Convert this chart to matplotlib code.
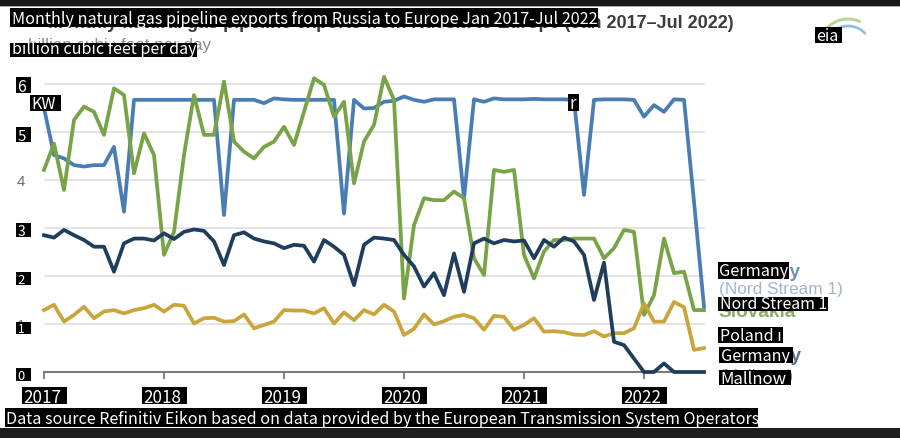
import numpy as np
import matplotlib
matplotlib.use("Agg")
import matplotlib.pyplot as plt
from matplotlib.patches import Rectangle, Arc

# ---------------- data (billion cubic feet per day), Jan 2017 .. Jul 2022 ----------------
months = np.arange(67)
nord_stream = [5.5, 4.52, 4.45, 4.31, 4.28, 4.31, 4.31, 4.69, 3.34, 5.67,
               5.67, 5.67, 5.67, 5.67, 5.67, 5.67, 5.67, 5.67, 3.27, 5.67,
               5.67, 5.67, 5.6, 5.7, 5.68, 5.67, 5.67, 5.67, 5.67, 5.67,
               3.3, 5.67, 5.49, 5.5, 5.63, 5.65, 5.74, 5.67, 5.63, 5.68,
               5.68, 5.68, 3.62, 5.68, 5.63, 5.7, 5.68, 5.68, 5.68, 5.69,
               5.68, 5.68, 5.68, 5.67, 3.69, 5.67, 5.68, 5.68, 5.68, 5.67,
               5.32, 5.56, 5.42, 5.68, 5.67, 3.55, 1.36]
slovakia = [4.21, 4.76, 3.79, 5.25, 5.53, 5.42, 4.94, 5.91, 5.77, 4.14,
            4.97, 4.52, 2.44, 2.92, 4.52, 5.77, 4.94, 4.94, 6.05, 4.8,
            4.59, 4.45, 4.69, 4.8, 5.11, 4.73, 5.42, 6.12, 5.98, 5.32,
            5.63, 3.93, 4.8, 5.15, 6.15, 5.67, 1.53, 3.06, 3.62, 3.58,
            3.58, 3.76, 3.62, 2.37, 2.02, 4.21, 4.17, 4.21, 2.44, 1.95,
            2.51, 2.75, 2.75, 2.78, 2.78, 2.78, 2.37, 2.58, 2.96, 2.92,
            1.19, 1.6, 2.78, 2.06, 2.09, 1.29, 1.29]
mallnow = [2.85, 2.8, 2.96, 2.85, 2.75, 2.61, 2.61, 2.09, 2.68, 2.78,
           2.78, 2.74, 2.89, 2.77, 2.92, 2.97, 2.94, 2.72, 2.23, 2.85,
           2.91, 2.78, 2.72, 2.68, 2.58, 2.65, 2.63, 2.3, 2.75, 2.61,
           2.44, 1.81, 2.65, 2.8, 2.78, 2.75, 2.44, 2.2, 1.78, 2.06,
           1.6, 2.47, 1.67, 2.68, 2.78, 2.68, 2.75, 2.72, 2.74, 2.37,
           2.75, 2.61, 2.8, 2.72, 2.44, 1.5, 2.28, 0.63, 0.56, 0.28,
           0.0, 0.0, 0.18, 0.0, 0.0, 0.0, 0.0]
poland = [1.29, 1.4, 1.05, 1.19, 1.36, 1.12, 1.26, 1.29, 1.22, 1.29,
          1.33, 1.4, 1.26, 1.4, 1.38, 1.01, 1.12, 1.13, 1.05, 1.06,
          1.2, 0.91, 0.98, 1.05, 1.29, 1.28, 1.28, 1.22, 1.33, 1.01,
          1.24, 1.08, 1.29, 1.2, 1.4, 1.26, 0.77, 0.9, 1.2, 0.99,
          1.06, 1.15, 1.19, 1.12, 0.88, 1.17, 1.15, 0.88, 0.98, 1.12,
          0.84, 0.85, 0.83, 0.78, 0.77, 0.85, 0.74, 0.81, 0.81, 0.91,
          1.43, 1.05, 1.05, 1.46, 1.35, 0.46, 0.5]
year_labels = ["2017", "2018", "2019", "2020", "2021", "2022"]
year_ticks = [0, 12, 24, 36, 48, 60]
y_ticks = [0, 1, 2, 3, 4, 5, 6]

title_box = "Monthly natural gas pipeline exports from Russia to Europe Jan 2017-Jul 2022"
title_orig = "Monthly natural gas pipeline exports from Russia to Europe (Jan 2017\u2013Jul 2022)"
unit_text = "billion cubic feet per day"
source_text = "Data source Refinitiv Eikon based on data provided by the European Transmission System Operators"

C_NS = "#4a7db4"
C_SK = "#78a346"
C_ML = "#1f3d5c"
C_PL = "#c9a53c"

BOXFONT = ["Noto Sans CJK KR", "DejaVu Sans"]
ORIGFONT = ["Liberation Sans", "DejaVu Sans"]

W, H = 900, 438
fig = plt.figure(figsize=(9, 4.38), dpi=100)
fig.patch.set_facecolor("white")

# ---------------- chart axes ----------------
ax = fig.add_axes([44 / W, (H - 372) / H, 661 / W, 6.3 * 48 / H])
ax.set_xlim(0, 66.1)
ax.set_ylim(0, 6.3)
for v in y_ticks[1:]:
    ax.axhline(v, color="#e2e2e2", lw=1.3, zorder=0)
for s in ["top", "right", "left"]:
    ax.spines[s].set_visible(False)
ax.spines["bottom"].set_color("#7a7a7a")
ax.spines["bottom"].set_linewidth(1.5)
ax.set_xticks(year_ticks)
ax.set_yticks([])
ax.tick_params(axis="x", direction="out", length=5, width=1.3, color="#7a7a7a", labelbottom=False)

lw = 2.7
ax.plot(months, nord_stream, color=C_NS, lw=lw, clip_on=False, zorder=3)
ax.plot(months, slovakia, color=C_SK, lw=lw, clip_on=False, zorder=4)
ax.plot(months, poland, color=C_PL, lw=lw, clip_on=False, zorder=5)
ax.plot(months, mallnow, color=C_ML, lw=lw, clip_on=False, zorder=6)

# ---------------- overlay in pixel coordinates ----------------
ov = fig.add_axes([0, 0, 1, 1], zorder=10)
ov.set_xlim(0, W)
ov.set_ylim(H, 0)
ov.axis("off")
ov.patch.set_alpha(0)

renderer = fig.canvas.get_renderer()
PX = 0.72  # points per pixel at dpi 100

# dark frame bars
ov.add_patch(Rectangle((0, 0), W, 6, facecolor="#181818", edgecolor="none", zorder=1))
ov.add_patch(Rectangle((0, 6), W, 1.2, facecolor="#b0b0b0", edgecolor="none", zorder=1))
ov.add_patch(Rectangle((0, 428), W, 10, facecolor="#1e1e1e", edgecolor="none", zorder=1))

# original (underlying) chart texts
ov.text(734, 28, title_orig, ha="right", va="baseline", fontsize=18 * PX,
        fontweight="bold", color="#3c3c3c", family=ORIGFONT, zorder=2)
ov.text(211, 50, unit_text, ha="right", va="baseline", fontsize=17 * PX,
        color="#8a8a8a", family=ORIGFONT, zorder=2)
for v in y_ticks:
    yy = 372 - 48 * v
    ov.text(17, yy + 5.5, str(v), ha="left", va="baseline", fontsize=15 * PX,
            color="#6a6a6a", family=ORIGFONT, zorder=2)
for m, lab in zip(year_ticks, year_labels):
    ov.text(44 + 10 * m, 398, lab, ha="center", va="baseline", fontsize=15 * PX,
            color="#6a6a6a", family=ORIGFONT, zorder=2)
ov.text(718, 277, "Germany", fontsize=19 * PX, fontweight="bold", color="#7391b5",
        family=ORIGFONT, va="baseline", zorder=2)
ov.text(719, 294, "(Nord Stream 1)", fontsize=17.3 * PX, color="#a3b5c9",
        family=ORIGFONT, va="baseline", zorder=2)
ov.text(718, 317, "Slovakia", fontsize=19 * PX, fontweight="bold", color="#8aab6c",
        family=ORIGFONT, va="baseline", zorder=2)
ov.text(718, 341, "Poland", fontsize=19 * PX, fontweight="bold", color="#c9a95a",
        family=ORIGFONT, va="baseline", zorder=2)
ov.text(719, 361, "Germany", fontsize=19 * PX, fontweight="bold", color="#56708e",
        family=ORIGFONT, va="baseline", zorder=2)
ov.text(719, 381, "(Mallnow)", fontsize=17.3 * PX, color="#7d8ea3",
        family=ORIGFONT, va="baseline", zorder=2)

# eia logo (underlying)
ov.add_patch(Arc((848, 44), 54, 50, theta1=185, theta2=300, color="#bcd49a", lw=2.2, zorder=2))
ov.add_patch(Arc((848, 44), 42, 36, theta1=190, theta2=330, color="#8fc0dd", lw=2.0, zorder=2))
ov.text(818, 43, "eia", fontsize=15 * PX, color="#8f9cab", family=ORIGFONT,
        va="baseline", zorder=2)


def boxed(x0, y0, x1, y1, s, base=0.15, pad=4, up=1.3):
    w, h = x1 - x0, y1 - y0
    ov.add_patch(Rectangle((x0, y0), w, h, facecolor="black", edgecolor="none", zorder=5))
    fs = h * PX
    t = ov.text(x0 + 1.5, y1 - base * h, s, color="white", fontsize=fs, family=BOXFONT,
                ha="left", va="baseline", zorder=6)
    tw = t.get_window_extent(renderer).width
    new = fs * (w - pad) / tw
    new = min(new, fs * up)
    t.set_fontsize(new)
    return t


boxed(10, 8, 598, 27, title_box, pad=2)
boxed(10, 43, 197, 57, unit_text, pad=3, base=0.18)
boxed(815, 27, 842, 43, "eia", up=1.0)
boxed(16, 77, 31, 93, "6", base=0.06, up=1.0)
boxed(30, 95, 61, 111, "KW", base=0.1, up=1.0)
boxed(16, 127, 31, 142, "5", base=0.06, up=1.0)
boxed(16, 223, 31, 237, "3", base=0.06, up=1.0)
boxed(16, 272, 31, 285, "2", base=0.06, up=1.0)
boxed(16, 322, 31, 334, "1", base=0.06, up=1.0)
boxed(16, 368, 31, 381, "0", base=0.06, up=1.0)
boxed(568, 94, 579, 111, "r", base=0.1, up=1.0)
for m, lab in zip(year_ticks, year_labels):
    cx = 44 + 10 * m
    boxed(cx - 22.5, 387, cx + 22.5, 404, lab, base=0.06, pad=5, up=1.0)
boxed(5, 408, 758, 427, source_text, pad=3)
boxed(718, 262, 789, 279, "Germany", pad=2)
boxed(718, 297, 828, 311, "Nord Stream 1", pad=3, base=0.12)
boxed(718, 327, 783, 343, "Poland \u0131", pad=3)
boxed(719, 347, 793, 363, "Germany", pad=5)
boxed(719, 370, 791, 385, "Mallnow", pad=6, base=0.1)

fig.savefig("out.png", dpi=100)
